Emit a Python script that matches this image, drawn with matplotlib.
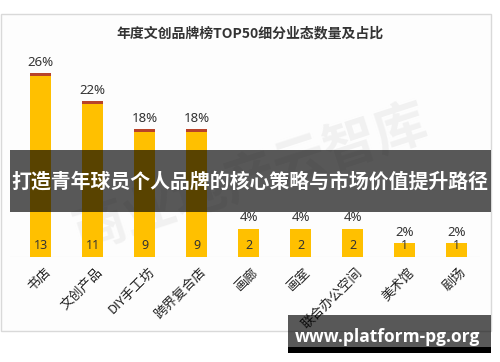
import matplotlib
matplotlib.use("Agg")
import matplotlib.pyplot as plt
from matplotlib.patches import Rectangle

plt.rcParams['font.family'] = ['Noto Sans CJK SC', 'DejaVu Sans']

categories = ["书店", "文创产品", "DIY手工坊", "跨界复合店", "画廊", "画室", "联合办公空间", "美术馆", "剧场"]
counts = [13, 11, 9, 9, 2, 2, 2, 1, 1]
percents = [26, 22, 18, 18, 4, 4, 4, 2, 2]
title = "年度文创品牌榜TOP50细分业态数量及占比"
banner = "打造青年球员个人品牌的核心策略与市场价值提升路径"
site = "www.platform-pg.org"
watermark = "商业地产云智库"

W, H = 500, 362
fig = plt.figure(figsize=(W / 100, H / 100), dpi=100)
fig.patch.set_facecolor('white')

def fx(px):
    return px / W

def fy(py):
    return 1 - py / H

# chart frame
fig.patches.append(Rectangle((fx(0.5), fy(331)), fx(490.5), (331 - 14) / H,
                             transform=fig.transFigure, facecolor='#fdfdfd',
                             edgecolor='#d9d9d9', linewidth=1, zorder=0))

# watermark
fig.text(fx(250), fy(178), watermark, fontsize=38, rotation=18, color='#f1f1f1',
         ha='center', va='center', fontweight='bold', zorder=0.5)

ax = fig.add_axes([fx(10), fy(257), fx(470), (257 - 40) / H])
ax.set_zorder(1)
ax.set_facecolor('none')
x = list(range(len(categories)))
ax.bar(x, counts, width=0.40, color='#FFC000', zorder=2)
ax.bar(x, [p / 100 for p in percents], bottom=counts, width=0.40, color='#B8432A', zorder=2)

num_font = ['Noto Sans', 'DejaVu Sans']
for i, (c, p) in enumerate(zip(counts, percents)):
    ax.annotate(f"{p}%", (i, c + p / 100), xytext=(0, 3), textcoords='offset points',
                ha='center', va='bottom', fontsize=9.5, color='#333333', family=num_font)
    ax.text(i, 0.82, str(c), ha='center', va='center', fontsize=9, color='#333333',
            family=num_font, zorder=3)

ax.set_xlim(-0.587, 8.452)
ax.set_ylim(0, 217 / 13.9)
for s in ax.spines.values():
    s.set_visible(False)
ax.axhline(0, color='#dcdcdc', linewidth=0.8, zorder=1)
ax.set_yticks([])
ax.set_xticks([i + 0.06 for i in x])
ax.set_xticklabels(categories, rotation=45, ha='right', va='top', rotation_mode='anchor',
                   fontsize=9.5, color='#222222')
ax.tick_params(axis='x', length=0, pad=6)

fig.text(fx(250), fy(33), title, ha='center', va='center', fontsize=10,
         fontweight='bold', color='#333333')

# banner overlay
fig.patches.append(Rectangle((fx(10), fy(212)), fx(481), 62 / H, transform=fig.transFigure,
                             facecolor='black', alpha=0.65, edgecolor='none', zorder=5))
fig.text(fx(250), fy(181), banner, ha='center', va='center', fontsize=14.3,
         fontweight='bold', color='white', zorder=6)

# site box
fig.patches.append(Rectangle((fx(288), fy(347)), fx(203), 32 / H, transform=fig.transFigure,
                             facecolor='black', alpha=0.65, edgecolor='none', zorder=5))
fig.patches.append(Rectangle((fx(288), fy(353)), fx(203), 6 / H, transform=fig.transFigure,
                             facecolor='black', edgecolor='none', zorder=5))
fig.text(fx(388), fy(337), site, ha='center', va='center', fontsize=12.5,
         fontweight='bold', color='white', family=['Open Sans', 'DejaVu Sans'], zorder=6)

fig.savefig('out.png', dpi=100)
